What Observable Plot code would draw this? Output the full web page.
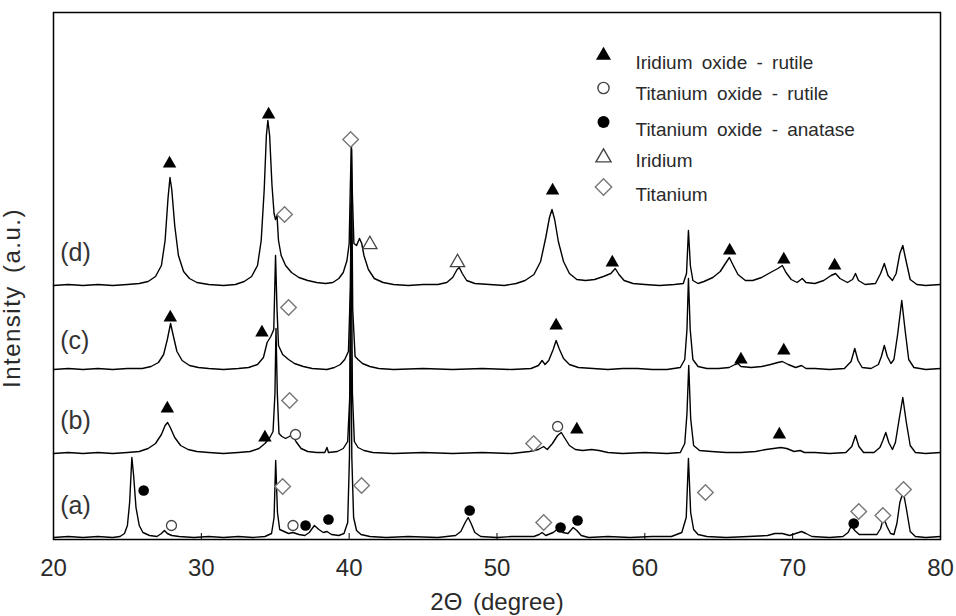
<!DOCTYPE html>
<html><head><meta charset="utf-8">
<script src="https://cdn.jsdelivr.net/npm/d3@7"></script>
<script src="https://cdn.jsdelivr.net/npm/@observablehq/plot@0.6"></script>
<style>
html,body{margin:0;padding:0;background:#fff;}
#wrap{position:relative;width:956px;height:616px;}
#wrap svg text{word-spacing:4px;}
</style></head><body><div id="wrap"></div>
<script>
// ---- x axis ticks ----
const xTicks = [20, 30, 40, 50, 60, 70, 80];

// ---- vertical stacking offsets (a.u.) of each pattern ----
const traceNames = ["(a)", "(b)", "(c)", "(d)"];
const traceIds = ["a", "b", "c", "d"];
const traceOffsets = [2, 86, 170, 254];
const labelX = [20.45, 20.45, 20.45, 20.45];
const labelH = [32, 33, 29, 33];

// ---- XRD patterns: [2theta, intensity above own baseline] ----
const patternA = [[20,0],[21,1],[22,0],[23,1],[24,0],[24.5,1],[24.8,4],[25.0,12],[25.15,35],[25.3,80],[25.42,62],[25.58,30],[25.8,12],[26.05,5],[26.5,2],[27.0,1],[27.3,4],[27.5,7],[27.7,4],[28.0,2],[28.5,1],[29.5,0],[30.5,1],[31.5,0],[32.5,1],[33.5,0],[34.3,1],[34.75,4],[34.92,20],[35.03,77],[35.15,25],[35.3,8],[35.6,6],[35.9,4],[36.2,5],[36.6,3],[37.0,2],[37.3,5],[37.65,12],[37.95,8],[38.25,5],[38.5,6],[38.8,3],[39.3,2],[39.65,4],[39.9,15],[40.02,80],[40.1,250],[40.18,80],[40.3,20],[40.5,7],[40.8,3],[41.4,1],[42.5,0],[44,1],[46,0],[47.2,2],[47.55,6],[47.85,15],[48.05,20],[48.25,14],[48.5,5],[48.9,1],[50,0],[51,1],[52.5,1],[52.85,3],[53.05,5],[53.3,2],[53.8,5],[54.15,9],[54.45,5],[54.8,4],[55.15,10],[55.4,7],[55.7,2],[56.2,0],[57.5,1],[59,0],[60.5,1],[61.8,1],[62.5,5],[62.8,20],[62.95,79],[63.1,25],[63.3,8],[63.6,3],[64.2,1],[65.5,0],[67,1],[68.3,2],[68.8,4],[69.3,4],[69.8,2],[70.2,4],[70.6,6],[70.9,4],[71.3,1],[72.5,0],[73.4,1],[73.75,5],[73.98,12],[74.2,7],[74.5,3],[75.2,3],[75.7,3],[75.95,9],[76.15,20],[76.38,11],[76.62,4],[76.85,3],[77.05,14],[77.25,35],[77.48,46],[77.7,28],[77.95,6],[78.3,1],[79,0],[80,1]];
const patternB = [[20,0],[21,1],[22,0],[23,1],[24,0],[25,1],[25.8,2],[26.4,5],[26.9,10],[27.3,19],[27.55,28],[27.72,31],[27.9,26],[28.2,16],[28.6,8],[29.1,4],[29.7,2],[30.5,1],[31.5,0],[32.5,1],[33.3,2],[33.9,5],[34.3,10],[34.6,15],[34.85,22],[34.98,60],[35.05,125],[35.14,60],[35.25,20],[35.45,17],[35.7,15],[35.95,17],[36.15,19],[36.4,12],[36.75,5],[37.2,2],[37.8,1],[38.35,1],[38.5,6],[38.6,1],[39.2,2],[39.6,5],[39.9,12],[40.05,60],[40.13,250],[40.22,60],[40.35,12],[40.6,6],[41.0,3],[41.6,1],[43,0],[45,1],[47,0],[49,1],[51,0],[52.2,2],[52.8,4],[53.15,7],[53.4,4],[53.75,10],[54.1,18],[54.35,21],[54.6,15],[54.9,8],[55.3,4],[55.8,3],[56.4,4],[56.9,3],[57.5,1],[58.5,0],[60,1],[61.5,0],[62.4,1],[62.7,10],[62.85,40],[62.97,88],[63.1,35],[63.3,8],[63.7,3],[64.5,2],[65.5,1],[66.5,1],[67.5,2],[68.2,4],[68.7,5],[69.2,6],[69.6,5],[70.1,2],[70.5,3],[70.8,1],[71.5,1],[72.5,0],[73.6,1],[74.0,7],[74.25,18],[74.48,7],[74.8,1],[75.5,1],[75.9,6],[76.1,13],[76.3,21],[76.5,11],[76.75,4],[76.95,11],[77.2,34],[77.45,56],[77.68,32],[77.95,8],[78.3,1],[79,0],[80,1]];
const patternC = [[20,0],[21,1],[22,0],[23,1],[24,0],[25,1],[26,1],[26.6,3],[27.1,7],[27.45,15],[27.7,30],[27.92,46],[28.1,34],[28.35,18],[28.7,9],[29.2,4],[29.8,2],[30.5,1],[31.5,0],[32.5,1],[33.2,2],[33.8,5],[34.2,12],[34.45,27],[34.7,33],[34.9,40],[35.02,114],[35.12,60],[35.22,24],[35.5,15],[35.9,10],[36.3,6],[36.9,3],[37.5,1],[38.5,0],[39.0,2],[39.4,5],[39.7,10],[39.95,18],[40.08,80],[40.16,220],[40.24,60],[40.4,13],[40.6,10],[40.9,6],[41.4,3],[42,1],[43,0],[45,1],[47,0],[49,1],[51,0],[52.3,1],[52.8,4],[53.05,9],[53.25,5],[53.5,9],[53.8,20],[54.0,29],[54.2,21],[54.5,11],[54.9,5],[55.5,2],[56.5,1],[57.5,0],[58.5,1],[59.5,1],[60.5,0],[61.5,0],[62.4,2],[62.7,10],[62.85,40],[62.95,91],[63.07,40],[63.25,10],[63.6,3],[64.2,1],[65.0,1],[65.7,2],[66.1,5],[66.3,6],[66.5,3],[67.2,2],[67.9,3],[68.5,5],[69.0,7],[69.3,8],[69.7,5],[70.2,2],[70.6,4],[70.9,1],[71.5,1],[72.5,0],[73.5,1],[73.95,8],[74.2,21],[74.42,9],[74.7,2],[75.3,1],[75.8,5],[76.0,13],[76.2,24],[76.4,13],[76.65,6],[76.85,10],[77.1,35],[77.38,69],[77.6,40],[77.85,10],[78.2,2],[79,0],[80,1]];
const patternD = [[20,0],[21,1],[22,0],[23,1],[24,0],[25,1],[25.8,2],[26.4,4],[26.9,9],[27.3,20],[27.55,45],[27.75,88],[27.88,108],[28.0,96],[28.2,60],[28.45,30],[28.8,14],[29.2,7],[29.7,3],[30.5,1],[31.5,0],[32.3,1],[32.9,4],[33.4,9],[33.8,20],[34.05,45],[34.25,95],[34.4,150],[34.5,165],[34.62,150],[34.78,100],[34.92,72],[35.02,66],[35.12,70],[35.22,45],[35.4,30],[35.7,20],[36.1,13],[36.6,8],[37.2,5],[37.8,3],[38.4,2],[38.9,3],[39.3,7],[39.6,13],[39.85,25],[40.0,42],[40.08,100],[40.15,143],[40.22,90],[40.32,42],[40.5,40],[40.7,47],[40.85,42],[41.0,30],[41.3,16],[41.7,7],[42.3,3],[43,1],[44,0],[45,1],[46,1],[46.6,3],[47.0,8],[47.3,16],[47.45,18],[47.65,12],[47.95,5],[48.5,2],[49.5,1],[50.5,0],[51.3,2],[51.9,5],[52.5,11],[52.95,24],[53.3,48],[53.55,68],[53.72,76],[53.9,66],[54.15,44],[54.5,24],[54.9,12],[55.4,6],[56.0,5],[56.6,6],[57.2,9],[57.7,12],[58.0,17],[58.25,11],[58.6,5],[59.2,2],[60,1],[61,0],[62,1],[62.6,2],[62.82,12],[62.95,55],[63.08,20],[63.25,5],[63.6,2],[64.0,4],[64.6,8],[65.1,14],[65.45,22],[65.72,28],[65.95,21],[66.3,11],[66.8,5],[67.3,5],[67.9,8],[68.5,13],[69.0,17],[69.3,20],[69.55,13],[69.9,6],[70.3,3],[70.65,7],[70.9,3],[71.5,2],[72.1,5],[72.6,10],[72.9,12],[73.2,7],[73.7,3],[74.05,6],[74.25,12],[74.45,5],[74.9,1],[75.6,2],[75.95,12],[76.2,22],[76.45,10],[76.75,5],[77.0,12],[77.25,32],[77.45,40],[77.68,24],[77.95,6],[78.4,1],[79,0],[80,1]];
const patterns = [patternA, patternB, patternC, patternD];

// ---- phase markers: [pattern, 2theta, height above baseline] ----
const iridiumOxideRutile = [["d",27.85,122],["d",34.55,171],["d",53.76,95],["d",57.8,23],["d",65.74,35],["d",69.4,26],["d",72.84,20],["c",27.9,52],["c",34.1,37],["c",54.0,44],["c",66.5,10],["c",69.4,19],["b",27.7,45],["b",34.3,16],["b",55.4,24],["b",69.1,19]];
const titaniumOxideRutile = [["b",36.37,19],["b",54.1,27],["a",27.98,12],["a",36.2,12]];
const titaniumOxideAnatase = [["a",26.1,47],["a",37.05,12],["a",38.6,18],["a",48.15,27],["a",54.3,10],["a",55.45,17],["a",74.13,14]];
const iridium = [["d",41.4,41],["d",47.33,23]];
const titanium = [["d",35.63,71],["d",40.1,146],["c",35.9,62],["b",35.97,53],["b",52.48,10],["a",35.5,51],["a",40.84,52],["a",53.16,15],["a",64.1,45],["a",74.47,26],["a",76.1,22],["a",77.5,48]];

// ---- legend ----
const legendLabels = ["Iridium oxide - rutile", "Titanium oxide - rutile", "Titanium oxide - anatase", "Iridium", "Titanium"];

// ---- build tables ----
const offsetOf = Object.fromEntries(traceIds.map((id, i) => [id, traceOffsets[i]]));
const lineRows = patterns.flatMap((p, i) => p.map(([x, h]) => ({trace: traceIds[i], x, y: traceOffsets[i] + h})));
const toRows = arr => arr.map(([t, x, h]) => ({trace: t, x, y: offsetOf[t] + h}));
const labelRows = traceNames.map((n, i) => ({name: n, x: labelX[i], y: traceOffsets[i] + labelH[i]}));

const FONT = "'Liberation Sans', Arial, Helvetica, sans-serif";
const TXT = "#2a2a2a";

const legendSym = [
  {symbol: "triangle", fill: "#000", stroke: "none", r: 5.6, dy: 43},
  {symbol: "circle", fill: "#fff", stroke: "#444", r: 5.6, dy: 75.5},
  {symbol: "circle", fill: "#000", stroke: "none", r: 6, dy: 109.5},
  {symbol: "triangle", fill: "#fff", stroke: "#444", r: 5.6, dy: 145},
  {symbol: "diamond2", fill: "#fff", stroke: "#777", r: 7.4, dy: 174.5}
];
const legendTextDy = [42.5, 73.5, 110, 140.5, 174.5];

const legendMarks = legendLabels.flatMap((lab, i) => [
  Plot.dot([lab], {frameAnchor: "top-left", dx: 550, dy: legendSym[i].dy, symbol: legendSym[i].symbol, r: legendSym[i].r, fill: legendSym[i].fill, stroke: legendSym[i].stroke, strokeWidth: 1.4}),
  Plot.text([lab], {frameAnchor: "top-left", dx: 582, dy: legendTextDy[i], text: d => d, textAnchor: "start", fontSize: 19, fill: TXT})
]);

const chart = Plot.plot({
  width: 956,
  height: 616,
  marginLeft: 53,
  marginRight: 16,
  marginTop: 12,
  marginBottom: 77,
  style: {fontFamily: FONT, background: "#fff", overflow: "visible"},
  x: {domain: [20, 80]},
  y: {domain: [0, 527], axis: null},
  marks: [
    Plot.line(lineRows, {x: "x", y: "y", z: "trace", stroke: "#000", strokeWidth: 1.4, curve: "linear"}),
    Plot.axisX({ticks: xTicks, tickSize: 6, dy: -6, tickFormat: () => "", stroke: "#000", label: null}),
    Plot.axisX({ticks: xTicks, tickSize: 0, tickPadding: 19, fontSize: 24, tickFormat: d => d, color: TXT, label: null}),
    Plot.frame({stroke: "#000", strokeWidth: 1.5}),
    Plot.dot(toRows(iridiumOxideRutile), {x: "x", y: "y", symbol: "triangle", r: 5, fill: "#000"}),
    Plot.dot(toRows(titaniumOxideRutile), {x: "x", y: "y", symbol: "circle", r: 5, fill: "#fff", stroke: "#444", strokeWidth: 1.3}),
    Plot.dot(toRows(titaniumOxideAnatase), {x: "x", y: "y", symbol: "circle", r: 5.3, fill: "#000"}),
    Plot.dot(toRows(iridium), {x: "x", y: "y", symbol: "triangle", r: 5.3, fill: "#fff", stroke: "#444", strokeWidth: 1.3}),
    Plot.dot(toRows(titanium), {x: "x", y: "y", symbol: "diamond2", r: 7, fill: "#fff", stroke: "#777", strokeWidth: 1.4}),
    Plot.text(labelRows, {x: "x", y: "y", text: "name", textAnchor: "start", fontSize: 25, fill: "#333"}),
    Plot.text(["2Θ (degree)"], {frameAnchor: "bottom", dy: 70, text: d => d, fontSize: 24, fill: TXT}),
    Plot.text(["Intensity (a.u.)"], {frameAnchor: "left", dx: -41, dy: 22, rotate: -90, textAnchor: "middle", text: d => d, fontSize: 24, fill: TXT}),
    ...legendMarks
  ]
});
document.getElementById("wrap").appendChild(chart);
// widen the letter spacing of the rotated y title
d3.select(chart).selectAll("text").filter(function() { return this.textContent.startsWith("Intensity"); }).style("letter-spacing", "1.5px");
</script></body></html>
